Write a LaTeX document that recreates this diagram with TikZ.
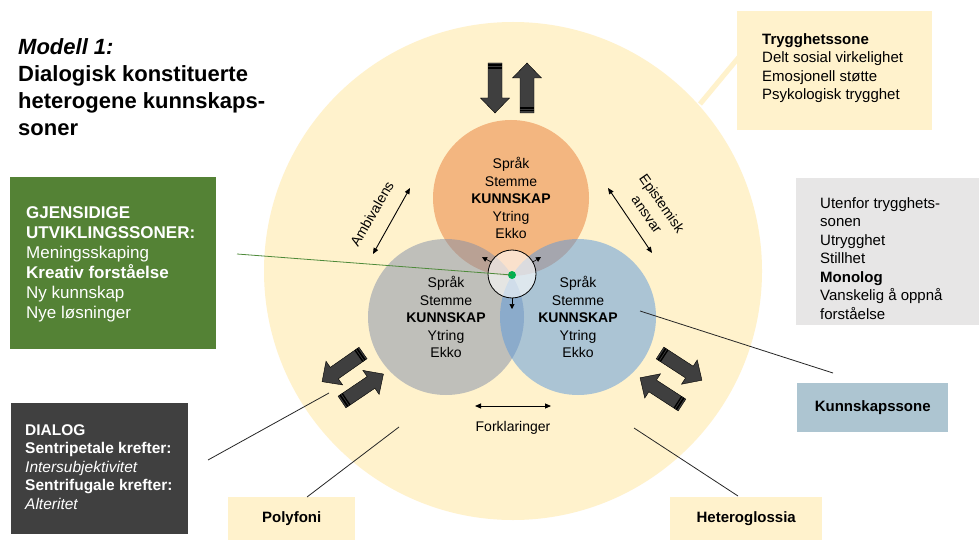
\documentclass[tikz,border=0pt]{standalone}
\usepackage{fontspec}
\setmainfont{Liberation Sans}
\usetikzlibrary{arrows.meta}
\definecolor{zone}{HTML}{FFF2CC}
\definecolor{orangec}{HTML}{F3B680}
\definecolor{grayc}{HTML}{818EA9}
\definecolor{bluec}{HTML}{5998DC}
\definecolor{greenbox}{HTML}{548235}
\definecolor{darkbox}{HTML}{404040}
\definecolor{lightgraybox}{HTML}{E7E6E6}
\definecolor{kbox}{HTML}{ADC5D1}
\definecolor{arrfill}{HTML}{3F3F3F}
\definecolor{gline}{HTML}{4E8A3A}
\definecolor{gdot}{HTML}{00B050}
\definecolor{pline}{HTML}{262626}
\tikzset{
  txt/.style={inner sep=0pt, align=left, anchor=north west},
  panel/.style={draw=none, inner sep=0pt, anchor=north west},
  clbl/.style={font=\fontsize{14}{17.5}\selectfont, align=center, inner sep=0pt},
  zonecircle/.style={circle, inner sep=0pt, minimum size=156pt, text opacity=1,
      font=\fontsize{14}{17.5}\selectfont, align=center},
  dblarrow/.style={{Triangle[length=6pt,width=5pt]}-{Triangle[length=6pt,width=5pt]}, line width=0.9pt},
  outarrow/.style={-{Triangle[length=5pt,width=5pt]}, line width=0.6pt},
  pointer/.style={line width=0.8pt, pline},
  blockarr/.pic={
    \filldraw[fill=arrfill, draw=black, line width=0.4pt]
      (0,-7) -- (35,-7) -- (35,-14.5) -- (50,0) -- (35,14.5) -- (35,7) -- (0,7) -- cycle;
    \fill[black] (1.5,-7) rectangle (3.2,7);
    \fill[black] (4.2,-7) rectangle (5.6,7);
  }
}
\begin{document}
\begin{tikzpicture}[x=1pt,y=-1pt]
\useasboundingbox (0,0) rectangle (979,540);
\fill[white] (0,0) rectangle (979,540);

% big trust zone
\node[circle, fill=zone, inner sep=0pt, minimum size=498pt] (big) at (513,271) {};
\coordinate (ty1) at (700,104);
\coordinate (ty2) at (739,57);
\draw[zone, line width=5pt] (ty1) -- (ty2);

% three knowledge zones
\node[zonecircle, fill=orangec] (orange) at (511,198)
  {Språk\\Stemme\\\textbf{KUNNSKAP}\\Ytring\\Ekko};
\node[zonecircle, fill=grayc, fill opacity=0.5] (grayz) at (446,317)
  {Språk\\Stemme\\\textbf{KUNNSKAP}\\Ytring\\Ekko};
\node[zonecircle, fill=bluec, fill opacity=0.5] (bluez) at (578,317)
  {Språk\\Stemme\\\textbf{KUNNSKAP}\\Ytring\\Ekko};

% centre
\node[circle, inner sep=0pt, minimum size=48pt, fill=white, fill opacity=0.6, draw=black, line width=0.8pt] (cc) at (512,274) {};
\coordinate (oa1) at (482,257);
\coordinate (oa2) at (541,257);
\coordinate (oa3) at (512,309);
\draw[outarrow] (cc.150) -- (oa1);
\draw[outarrow] (cc.30) -- (oa2);
\draw[outarrow] (cc.south) -- (oa3);

% green pointer
\node[circle, fill=gdot, inner sep=0pt, minimum size=8pt] (dot) at (512,275) {};
\coordinate (gl) at (237,254);
\draw[gline, line width=0.8pt] (gl) -- (dot.center);

% double arrows and labels
\coordinate (am1) at (410,188);
\coordinate (am2) at (373,254);
\draw[dblarrow] (am1) -- (am2);
\node[clbl, rotate=60] (amb) at (372,214) {Ambivalens};

\coordinate (ep1) at (608,188);
\coordinate (ep2) at (652,253);
\draw[dblarrow] (ep1) -- (ep2);
\node[clbl, rotate=-55] (epi1) at (661,204) {Epistemisk};
\node[clbl, rotate=-55] (epi2) at (646,215) {ansvar};

\coordinate (fk1) at (475,406);
\coordinate (fk2) at (551,406);
\draw[dblarrow] (fk1) -- (fk2);
\node[clbl] (fork) at (513,428) {Forklaringer};

% block arrows
\pic[rotate=-90] at (495,63) {blockarr};
\pic[rotate=90] at (527,113) {blockarr};
\pic[rotate=215] at (363,353) {blockarr};
\pic[rotate=34] at (342,402) {blockarr};
\pic[rotate=-33] at (660,353) {blockarr};
\pic[rotate=147] at (682,405) {blockarr};

% title
\node[txt, font=\fontsize{22}{27}\selectfont\bfseries] (title) at (18,38)
  {\textit{Modell 1:}\\Dialogisk konstituerte\\heterogene kunnskaps-\\soner};

% trygghetssone box
\node[panel, fill=zone, minimum width=195pt, minimum height=119pt] (trygg) at (737,11) {};
\node[txt, font=\fontsize{15}{18.6}\selectfont] (tryggtxt) at (762,33)
  {\textbf{Trygghetssone}\\Delt sosial virkelighet\\Emosjonell støtte\\Psykologisk trygghet};

% outside box
\node[panel, fill=lightgraybox, minimum width=183pt, minimum height=147pt] (utenfor) at (796,178) {};
\node[txt, font=\fontsize{15}{18.5}\selectfont] (utenfortxt) at (820,197)
  {Utenfor trygghets-\\sonen\\Utrygghet\\Stillhet\\\textbf{Monolog}\\Vanskelig å oppnå\\forståelse};

% green box
\node[panel, fill=greenbox, minimum width=206pt, minimum height=172pt] (gjens) at (10,177) {};
\node[txt, text=white, font=\fontsize{17}{20}\selectfont] (gjenstxt) at (26,206)
  {\textbf{GJENSIDIGE}\\\textbf{UTVIKLINGSSONER:}\\Meningsskaping\\\textbf{Kreativ forståelse}\\Ny kunnskap\\Nye løsninger};

% dialog box
\node[panel, fill=darkbox, minimum width=177pt, minimum height=131pt] (dialog) at (11,403) {};
\node[txt, text=white, font=\fontsize{15.5}{18.6}\selectfont] (dialogtxt) at (25,424)
  {\textbf{DIALOG}\\\textbf{Sentripetale krefter:}\\\textit{Intersubjektivitet}\\\textbf{Sentrifugale krefter:}\\\textit{Alteritet}};

% small label boxes
\node[panel, fill=kbox, minimum width=151pt, minimum height=49pt, font=\fontsize{15}{18}\selectfont\bfseries] (kunn) at (797,383) {Kunnskapssone};
\node[panel, fill=zone, minimum width=152pt, minimum height=43pt, font=\fontsize{15}{18}\selectfont\bfseries] (hetero) at (670,497) {Heteroglossia};
\node[panel, fill=zone, minimum width=127pt, minimum height=43pt, font=\fontsize{15}{18}\selectfont\bfseries] (poly) at (228,497) {Polyfoni};

% pointer lines
\coordinate (d1) at (208,460);
\coordinate (d2) at (329,393);
\draw[pointer] (d1) -- (d2);
\coordinate (p1) at (307,497);
\coordinate (p2) at (399,427);
\draw[pointer] (p1) -- (p2);
\coordinate (h1) at (634,428);
\coordinate (h2) at (738,496);
\draw[pointer] (h1) -- (h2);
\coordinate (k1) at (640,311);
\coordinate (k2) at (833,373);
\draw[pointer] (k1) -- (k2);
\end{tikzpicture}
\end{document}
